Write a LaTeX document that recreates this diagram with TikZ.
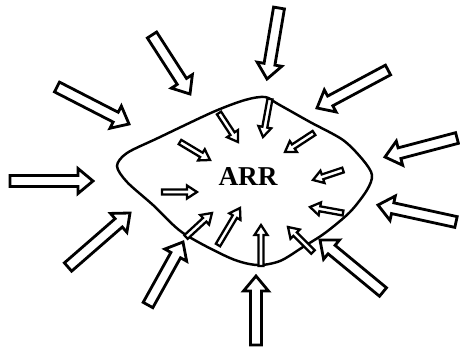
\documentclass[tikz,border=0pt]{standalone}
\usepackage{fontspec}
\setmainfont{Liberation Serif}
\usetikzlibrary{calc}

\begin{document}
\begin{tikzpicture}[x=0.02cm,y=-0.02cm,line join=miter]
  \tikzstyle{blob}=[line width=1.4pt]
  \tikzstyle{outer}=[draw,fill=white,line width=1.6pt]
  \tikzstyle{inner}=[draw,fill=white,line width=1.3pt]
  \useasboundingbox (0,0) rectangle (460,349);
  % cell outline
  \draw[blob] plot[smooth cycle,tension=0.5] coordinates {
    (117,166) (127,153) (158,138) (213,112) (245,100) (265,97) (278,104)
    (310,122) (343,140) (363,160) (372,175) (367,190) (350,212) (325,233)
    (303,247) (280,261) (257,265) (230,258) (183,233) (153,205) (127,182)};
  \node[font=\bfseries\fontsize{15.5}{18}\selectfont] (arr) at (248,177) {ARR};
  % outer arrows
  \foreach \ax/\ay/\bx/\by in {279/8/267/79, 152/35/190/94, 57/87/129/124,
      10/181/93/181, 68/267/130/213, 148/305/183/242, 256/345/256/276,
      383/292/320/240, 456/222/378/205, 457/138/385/157, 388/70/317/108}{
    \coordinate (tail) at (\ax,\ay);
    \coordinate (tip) at (\bx,\by);
    \coordinate (base) at ($(tip)!0.3cm!(tail)$);
    \path[outer] ($(tail)!0.11cm!90:(tip)$) -- ($(base)!0.11cm!90:(tip)$)
      -- ($(base)!0.25cm!90:(tip)$) -- (tip) -- ($(base)!0.25cm!-90:(tip)$)
      -- ($(base)!0.11cm!-90:(tip)$) -- ($(tail)!0.11cm!-90:(tip)$) -- cycle;
  }
  % inner arrows
  \foreach \ax/\ay/\bx/\by in {219/113/238/142, 270/99/263/137, 314/133/285/152,
      180/142/210/160, 343/170/313/180, 162/192/197/192, 343/213/310/207,
      186/237/212/213, 218/245/240/208, 261/266/261/225, 313/252/288/227}{
    \coordinate (tail) at (\ax,\ay);
    \coordinate (tip) at (\bx,\by);
    \coordinate (base) at ($(tip)!0.2cm!(tail)$);
    \path[inner] ($(tail)!0.05cm!90:(tip)$) -- ($(base)!0.05cm!90:(tip)$)
      -- ($(base)!0.13cm!90:(tip)$) -- (tip) -- ($(base)!0.13cm!-90:(tip)$)
      -- ($(base)!0.05cm!-90:(tip)$) -- ($(tail)!0.05cm!-90:(tip)$) -- cycle;
  }
\end{tikzpicture}
\end{document}
